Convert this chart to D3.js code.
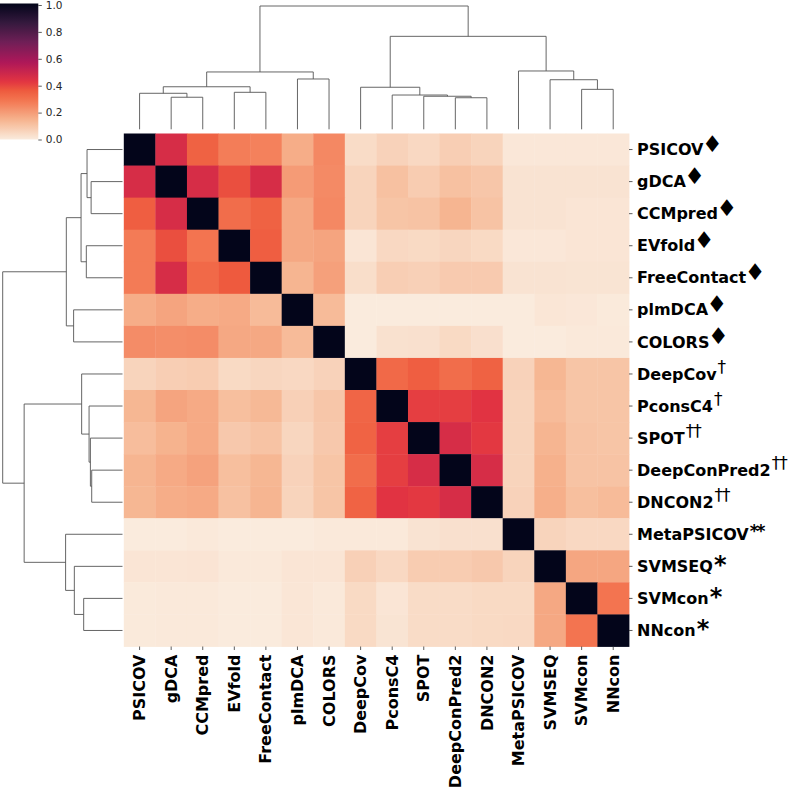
<!DOCTYPE html>
<html lang="en">
<head>
  <meta charset="UTF-8">
  <title>Predictor clustermap</title>
  <style>
    body { margin: 0; background: #fff; }
    text { font-family: "DejaVu Sans", sans-serif; }
  </style>
</head>
<body>
  <svg width="796" height="794"></svg>
  <script src="https://d3js.org/d3.v7.min.js"></script>
  <script>
    // methods in clustered order (same order for rows and columns)
    const methods = ["PSICOV", "gDCA", "CCMpred", "EVfold", "FreeContact", "plmDCA", "COLORS",
      "DeepCov", "PconsC4", "SPOT", "DeepConPred2", "DNCON2", "MetaPSICOV", "SVMSEQ", "SVMcon", "NNcon"];
    const marks = ["♦", "♦", "♦", "♦", "♦", "♦", "♦", "†", "†", "††", "††", "††", "**", "*", "*", "*"];

    // similarity matrix, rows x columns
    const values = [
      [1.00, 0.46, 0.34, 0.27, 0.26, 0.16, 0.245, 0.04, 0.065, 0.05, 0.075, 0.06, 0.01, 0.01, 0.01, 0.01],
      [0.46, 1.00, 0.46, 0.38, 0.46, 0.20, 0.24, 0.06, 0.11, 0.08, 0.11, 0.095, 0.02, 0.02, 0.02, 0.02],
      [0.35, 0.46, 1.00, 0.31, 0.34, 0.17, 0.245, 0.06, 0.10, 0.105, 0.14, 0.105, 0.02, 0.02, 0.015, 0.015],
      [0.275, 0.38, 0.29, 1.00, 0.35, 0.17, 0.18, 0.015, 0.05, 0.045, 0.055, 0.045, 0.01, 0.01, 0.015, 0.015],
      [0.275, 0.46, 0.32, 0.36, 1.00, 0.14, 0.19, 0.035, 0.075, 0.07, 0.085, 0.085, 0.02, 0.02, 0.018, 0.018],
      [0.16, 0.18, 0.16, 0.165, 0.125, 1.00, 0.125, 0.0, 0.0, 0.0, 0.0, 0.0, 0.0, 0.012, 0.01, 0.003],
      [0.235, 0.23, 0.235, 0.17, 0.17, 0.125, 1.00, 0.0, 0.025, 0.028, 0.045, 0.03, 0.0, 0.0, 0.005, 0.005],
      [0.06, 0.075, 0.08, 0.045, 0.055, 0.05, 0.065, 1.00, 0.32, 0.35, 0.31, 0.34, 0.065, 0.135, 0.10, 0.10],
      [0.135, 0.18, 0.165, 0.115, 0.13, 0.07, 0.095, 0.33, 1.00, 0.41, 0.41, 0.43, 0.06, 0.125, 0.10, 0.10],
      [0.12, 0.145, 0.165, 0.09, 0.105, 0.055, 0.09, 0.335, 0.41, 1.00, 0.46, 0.42, 0.06, 0.14, 0.105, 0.10],
      [0.14, 0.165, 0.185, 0.115, 0.135, 0.065, 0.10, 0.31, 0.41, 0.46, 1.00, 0.46, 0.06, 0.15, 0.105, 0.105],
      [0.135, 0.16, 0.165, 0.11, 0.14, 0.06, 0.10, 0.335, 0.43, 0.42, 0.46, 1.00, 0.065, 0.155, 0.115, 0.125],
      [0.0, 0.0, 0.005, 0.0, 0.0, 0.0, 0.005, 0.005, 0.005, 0.02, 0.028, 0.028, 1.00, 0.06, 0.05, 0.05],
      [0.015, 0.015, 0.017, 0.005, 0.005, 0.015, 0.015, 0.07, 0.05, 0.08, 0.08, 0.09, 0.06, 1.00, 0.175, 0.175],
      [0.003, 0.005, 0.005, 0.0, 0.0, 0.012, 0.005, 0.045, 0.015, 0.04, 0.04, 0.045, 0.045, 0.17, 1.00, 0.29],
      [0.003, 0.005, 0.005, 0.0, 0.0, 0.012, 0.005, 0.045, 0.018, 0.04, 0.04, 0.045, 0.048, 0.17, 0.29, 1.00]
    ];

    // linkage: [left, right, height]; "mN" refers to the N-th merge of the same list
    const colLinks = [
      ["gDCA", "CCMpred", 0.26], ["PSICOV", "m0", 0.292], ["EVfold", "FreeContact", 0.30],
      ["m1", "m2", 0.345], ["plmDCA", "COLORS", 0.408], ["m3", "m4", 0.465],
      ["DeepConPred2", "DNCON2", 0.256], ["SPOT", "m6", 0.268], ["PconsC4", "m7", 0.278],
      ["DeepCov", "m8", 0.341], ["SVMcon", "NNcon", 0.324], ["SVMSEQ", "m10", 0.402],
      ["MetaPSICOV", "m11", 0.473], ["m9", "m12", 0.754], ["m5", "m13", 1.0]
    ];
    const rowLinks = [
      ["gDCA", "CCMpred", 0.262], ["PSICOV", "m0", 0.296], ["EVfold", "FreeContact", 0.302],
      ["m1", "m2", 0.346], ["plmDCA", "COLORS", 0.408], ["m3", "m4", 0.469],
      ["DeepConPred2", "DNCON2", 0.257], ["SPOT", "m6", 0.268], ["PconsC4", "m7", 0.279],
      ["DeepCov", "m8", 0.341], ["SVMcon", "NNcon", 0.324], ["SVMSEQ", "m10", 0.402],
      ["MetaPSICOV", "m11", 0.475], ["m9", "m12", 0.821], ["m5", "m13", 1.0]
    ];

    const cbTicks = [0, 0.2, 0.4, 0.6, 0.8, 1.0];

    // rocket_r colormap
    const cmapStops = [0, 0.143, 0.286, 0.36, 0.429, 0.571, 0.714, 0.857, 1];
    const cmapColors = ["#faebdd", "#f6b48f", "#f37651", "#ee5a3e", "#e13342", "#ad1759", "#701f57", "#35193e", "#03051a"];
    const color = d3.scaleLinear().domain(cmapStops).range(cmapColors).interpolate(d3.interpolateRgb);

    const svg = d3.select("svg");
    const heat = {left: 123.8, right: 629, top: 133.5, bottom: 646.5};

    const x = d3.scaleBand().domain(methods).range([heat.left, heat.right]);
    const y = d3.scaleBand().domain(methods).range([heat.top, heat.bottom]);

    // heatmap cells
    const cells = [];
    values.forEach((row, i) => row.forEach((v, j) => cells.push({r: methods[i], c: methods[j], v})));
    svg.append("g").selectAll("rect").data(cells).join("rect")
      .attr("x", d => x(d.c))
      .attr("y", d => y(d.r))
      .attr("width", x.bandwidth() + 0.4)
      .attr("height", y.bandwidth() + 0.4)
      .attr("fill", d => color(d.v));

    // axes
    const tickColor = "#333";
    const bottomAxis = svg.append("g")
      .attr("transform", `translate(0,${heat.bottom})`)
      .call(d3.axisBottom(x).tickSize(3.5).tickFormat(""));
    bottomAxis.select(".domain").remove();
    bottomAxis.selectAll("line").attr("stroke", tickColor).attr("stroke-width", 0.8);
    bottomAxis.selectAll(".tick").append("text")
      .attr("transform", "translate(0,8) rotate(-90)")
      .attr("text-anchor", "end")
      .attr("dy", "0.35em")
      .attr("fill", "#000")
      .attr("font-size", 16)
      .attr("font-weight", "bold")
      .text(d => d);

    const rightAxis = svg.append("g")
      .attr("transform", `translate(${heat.right},0)`)
      .call(d3.axisRight(y).tickSize(3.5).tickFormat(""));
    rightAxis.select(".domain").remove();
    rightAxis.selectAll("line").attr("stroke", tickColor).attr("stroke-width", 0.8);
    rightAxis.selectAll(".tick").each(function(d, i) {
      const g = d3.select(this);
      const t = g.append("text")
        .attr("x", 8)
        .attr("dy", "0.35em")
        .attr("fill", "#000")
        .attr("font-size", 16)
        .attr("font-weight", "bold")
        .attr("text-anchor", "start")
        .text(d);
      const w = t.node().getComputedTextLength();
      const m = marks[i];
      const sup = g.append("text")
        .attr("fill", "#000")
        .attr("text-anchor", "start")
        .text(m);
      if (m === "♦") sup.attr("x", 8 + w - 1.5).attr("font-size", 23).attr("y", 2);
      else if (m[0] === "†") sup.attr("x", 8 + w + 1).attr("font-size", 17).attr("y", -1).attr("letter-spacing", -1);
      else sup.attr("x", 8 + w + 1).attr("font-size", m.length > 1 ? 17 : 24).attr("font-weight", "bold")
        .attr("y", m.length > 1 ? 3 : 7).attr("letter-spacing", -2);
    });

    // dendrograms
    function layoutTree(links, pos) {
      const nodes = {};
      methods.forEach(m => { nodes[m] = {p: pos(m), h: 0}; });
      const segs = [];
      links.forEach(([a, b, h], i) => {
        const A = nodes[a], B = nodes[b];
        segs.push([[A.p, A.h], [A.p, h], [B.p, h], [B.p, B.h]]);
        nodes["m" + i] = {p: (A.p + B.p) / 2, h};
      });
      return segs;
    }
    const lineColor = "#555";

    const colH = d3.scaleLinear().domain([0, 1]).range([129.3, 6]);
    const colSegs = layoutTree(colLinks, m => x(m) + x.bandwidth() / 2);
    svg.append("g").selectAll("path").data(colSegs).join("path")
      .attr("fill", "none").attr("stroke", lineColor).attr("stroke-width", 0.9)
      .attr("d", d3.line().x(d => d[0]).y(d => colH(d[1])));

    const rowH = d3.scaleLinear().domain([0, 1]).range([122.5, 2.7]);
    const rowSegs = layoutTree(rowLinks, m => y(m) + y.bandwidth() / 2);
    svg.append("g").selectAll("path").data(rowSegs).join("path")
      .attr("fill", "none").attr("stroke", lineColor).attr("stroke-width", 0.9)
      .attr("d", d3.line().x(d => rowH(d[1])).y(d => d[0]));

    // colour bar
    const cb = {left: 0, width: 38.3, top: 5, bottom: 139.5};
    const cy = d3.scaleLinear().domain([0, 1]).range([cb.bottom, cb.top]);
    const grad = svg.append("defs").append("linearGradient")
      .attr("id", "cbar").attr("x1", 0).attr("y1", 1).attr("x2", 0).attr("y2", 0);
    grad.selectAll("stop").data(d3.range(0, 1.0001, 0.02)).join("stop")
      .attr("offset", d => d)
      .attr("stop-color", d => color(d));
    svg.append("rect")
      .attr("x", cb.left).attr("y", cb.top - 1.5)
      .attr("width", cb.width).attr("height", cb.bottom - cb.top + 1.5)
      .attr("fill", "url(#cbar)");
    const cbAxis = svg.append("g")
      .attr("transform", `translate(${cb.left + cb.width},0)`)
      .call(d3.axisRight(cy).tickValues(cbTicks).tickFormat(d3.format(".1f")).tickSize(3.5).tickPadding(4));
    cbAxis.select(".domain").remove();
    cbAxis.selectAll("line").attr("stroke", tickColor).attr("stroke-width", 0.8);
    cbAxis.selectAll("text")
      .attr("fill", "#262626")
      .attr("font-size", 10.5)
      .attr("font-family", "DejaVu Sans");
  </script>
</body>
</html>
